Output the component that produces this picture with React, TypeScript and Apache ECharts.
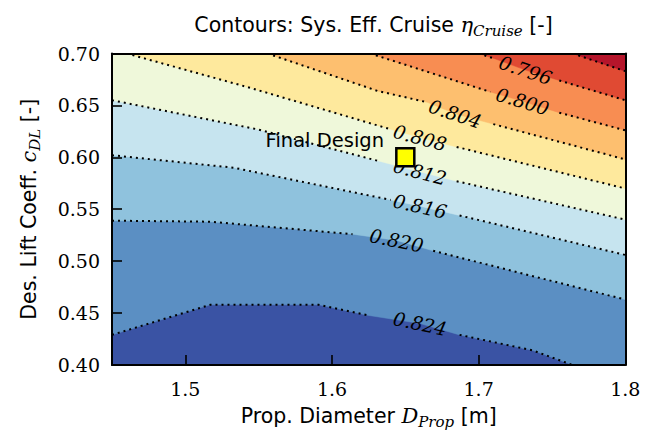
import React, { useEffect, useRef } from "react";
import * as echarts from "echarts";

const X_MIN = 1.45;
const X_MAX = 1.8;
const Y_MIN = 0.4;
const Y_MAX = 0.7;
const xTicks = [1.5, 1.6, 1.7, 1.8];
const yTicks = [0.4, 0.45, 0.5, 0.55, 0.6, 0.65, 0.7];

const levelLabels = ["0.824", "0.820", "0.816", "0.812", "0.808", "0.804", "0.800", "0.796", ""];

const line824 = [[1.45, 0.429], [1.517, 0.458], [1.591, 0.458], [1.624, 0.448], [1.66, 0.44], [1.687, 0.429], [1.737, 0.414], [1.764, 0.4]];
const line820 = [[1.45, 0.539], [1.517, 0.538], [1.614, 0.526], [1.644, 0.52], [1.669, 0.51], [1.733, 0.487], [1.8, 0.463]];
const line816 = [[1.45, 0.602], [1.533, 0.59], [1.64, 0.559], [1.66, 0.553], [1.687, 0.544], [1.8, 0.506]];
const line812 = [[1.45, 0.655], [1.549, 0.627], [1.633, 0.596], [1.66, 0.586], [1.685, 0.577], [1.8, 0.54]];
const line808 = [[1.46, 0.7], [1.544, 0.667], [1.64, 0.627], [1.66, 0.619], [1.685, 0.61], [1.8, 0.57]];
const line804 = [[1.556, 0.7], [1.631, 0.664], [1.665, 0.653], [1.684, 0.642], [1.71, 0.632], [1.8, 0.598]];
const line800 = [[1.626, 0.7], [1.708, 0.663], [1.73, 0.654], [1.755, 0.643], [1.8, 0.626]];
const line796 = [[1.7, 0.7], [1.711, 0.695], [1.732, 0.684], [1.755, 0.674], [1.8, 0.655]];
const line792 = [[1.764, 0.7], [1.8, 0.683]];
const labelAt = [4, 3, 3, 3, 3, 3, 2, 2, -1];

const contourLines = [line824, line820, line816, line812, line808, line804, line800, line796, line792];

const baseColor = "#3a53a4";
const bandColors = ["#5b8fc3", "#8fc2dd", "#c6e4ef", "#eff8da", "#fee99d", "#fdbf6f", "#f88d52", "#e04a33", "#b5152b"];

const finalDesign = [1.65, 0.6];

function closeAbove(pts: number[][]) {
  const out = pts.slice();
  const [x0] = pts[0];
  const [xn, yn] = pts[pts.length - 1];
  if (yn <= Y_MIN + 1e-9 && xn < X_MAX) out.push([X_MAX, Y_MIN]);
  out.push([X_MAX, Y_MAX]);
  if (x0 <= X_MIN + 1e-9) out.push([X_MIN, Y_MAX]);
  return out;
}

const sans = "DejaVu Sans";
const serif = "DejaVu Serif";

export default function App() {
  const ref = useRef<HTMLDivElement>(null);
  useEffect(() => {
    if (!ref.current) return;
    const chart = echarts.init(ref.current, undefined, { renderer: "svg" });
    const richBase = {
      a: { fontFamily: sans, fontSize: 20.5, fontWeight: "normal", color: "#000", lineHeight: 26 },
      m: { fontFamily: serif, fontStyle: "italic", fontWeight: "normal", fontSize: 21, color: "#000", lineHeight: 26 },
      s: { fontFamily: serif, fontStyle: "italic", fontWeight: "normal", fontSize: 15, color: "#000", verticalAlign: "bottom" },
    };
    const option: any = {
      animation: false,
      textStyle: { fontFamily: sans },
      title: {
        text: "{a|Contours: Sys. Eff. Cruise }{m|η}{s|Cruise}{a| [-]}",
        left: 368.5,
        top: 7,
        textAlign: "center",
        textStyle: { fontWeight: "normal", rich: richBase },
      },
      grid: {
        left: 112,
        top: 53.5,
        right: 26.7,
        bottom: 66.5,
        show: true,
        backgroundColor: baseColor,
        borderWidth: 0,
      },
      xAxis: [
        {
          type: "value",
          min: X_MIN,
          max: X_MAX,
          z: 10,
          position: "bottom",
          splitLine: { show: false },
          axisLine: { show: true, onZero: false, lineStyle: { color: "#000", width: 2 } },
          axisTick: { show: true, inside: true, length: 10, customValues: xTicks, lineStyle: { color: "#000", width: 1.6 } },
          axisLabel: {
            customValues: xTicks,
            formatter: (v: number) => v.toFixed(1),
            fontFamily: serif,
            fontSize: 19,
            color: "#000",
            margin: 14,
          },
          name: "{a|Prop. Diameter }{m|D}{s|Prop}{a| [m]}",
          nameLocation: "middle",
          nameGap: 38,
          nameTextStyle: { rich: richBase },
        },
        {
          type: "value",
          min: X_MIN,
          max: X_MAX,
          z: 10,
          position: "top",
          splitLine: { show: false },
          axisLine: { show: true, onZero: false, lineStyle: { color: "#000", width: 2 } },
          axisTick: { show: false },
          axisLabel: { show: false },
        },
      ],
      yAxis: [
        {
          type: "value",
          min: Y_MIN,
          max: Y_MAX,
          z: 10,
          position: "left",
          splitLine: { show: false },
          axisLine: { show: true, onZero: false, lineStyle: { color: "#000", width: 2 } },
          axisTick: { show: true, inside: true, length: 10, customValues: yTicks, lineStyle: { color: "#000", width: 1.6 } },
          axisLabel: {
            customValues: yTicks,
            formatter: (v: number) => v.toFixed(2),
            fontFamily: serif,
            fontSize: 19,
            color: "#000",
            margin: 12,
          },
          name: "{a|Des. Lift Coeff. }{m|c}{s|DL}{a| [-]}",
          nameLocation: "middle",
          nameRotate: 90,
          nameGap: 70,
          nameTextStyle: { rich: richBase },
        },
        {
          type: "value",
          min: Y_MIN,
          max: Y_MAX,
          z: 10,
          position: "right",
          splitLine: { show: false },
          axisLine: { show: true, onZero: false, lineStyle: { color: "#000", width: 2 } },
          axisTick: { show: false },
          axisLabel: { show: false },
        },
      ],
      series: [
        {
          type: "custom",
          clip: true,
          z: 2,
          silent: true,
          data: contourLines.map((_, i) => i),
          renderItem: (params: any, api: any) => {
            const i = params.dataIndex;
            const poly = closeAbove(contourLines[i]).map((p) => api.coord(p));
            return {
              type: "polygon",
              shape: { points: poly },
              style: { fill: bandColors[i], stroke: bandColors[i], lineWidth: 0.5 },
            };
          },
        },
        {
          type: "custom",
          clip: true,
          z: 3,
          silent: true,
          data: contourLines.map((_, i) => i),
          renderItem: (params: any, api: any) => {
            const i = params.dataIndex;
            const pts = contourLines[i].map((p) => api.coord(p));
            const li = labelAt[i];
            const segs: number[][][] = [];
            let cur: number[][] = [];
            pts.forEach((p: number[], k: number) => {
              if (k === li) {
                if (cur.length > 1) segs.push(cur);
                cur = [];
                return;
              }
              cur.push(p);
            });
            if (cur.length > 1) segs.push(cur);
            const children: any[] = segs.map((s) => ({
              type: "polyline",
              shape: { points: s },
              style: { stroke: "#000", lineWidth: 2, lineDash: [2, 4], lineCap: "butt", fill: null },
            }));
            if (li >= 0) {
              const a = pts[li - 1];
              const b = pts[li + 1];
              const ang = Math.atan2(b[1] - a[1], b[0] - a[0]);
              children.push({
                type: "text",
                x: pts[li][0],
                y: pts[li][1],
                rotation: -ang,
                style: {
                  text: levelLabels[i],
                  fill: "#000",
                  fontFamily: serif,
                  fontStyle: "italic",
                  fontSize: 19,
                  align: "center",
                  verticalAlign: "middle",
                },
              });
            }
            return { type: "group", children };
          },
        },
        {
          type: "scatter",
          z: 5,
          data: [finalDesign],
          symbol: "rect",
          symbolSize: 18,
          itemStyle: { color: "#ffff00", borderColor: "#000", borderWidth: 2.5, opacity: 1 },
          label: {
            show: true,
            formatter: "Final Design",
            position: "left",
            distance: 11,
            offset: [0, -17],
            fontFamily: sans,
            fontSize: 19.5,
            color: "#000",
          },
        },
      ],
    };
    chart.setOption(option);
    return () => chart.dispose();
  }, []);
  return (
    <div
      ref={ref}
      style={{ position: "fixed", left: 0, top: 0, width: 652, height: 434, background: "#fff" }}
    />
  );
}
